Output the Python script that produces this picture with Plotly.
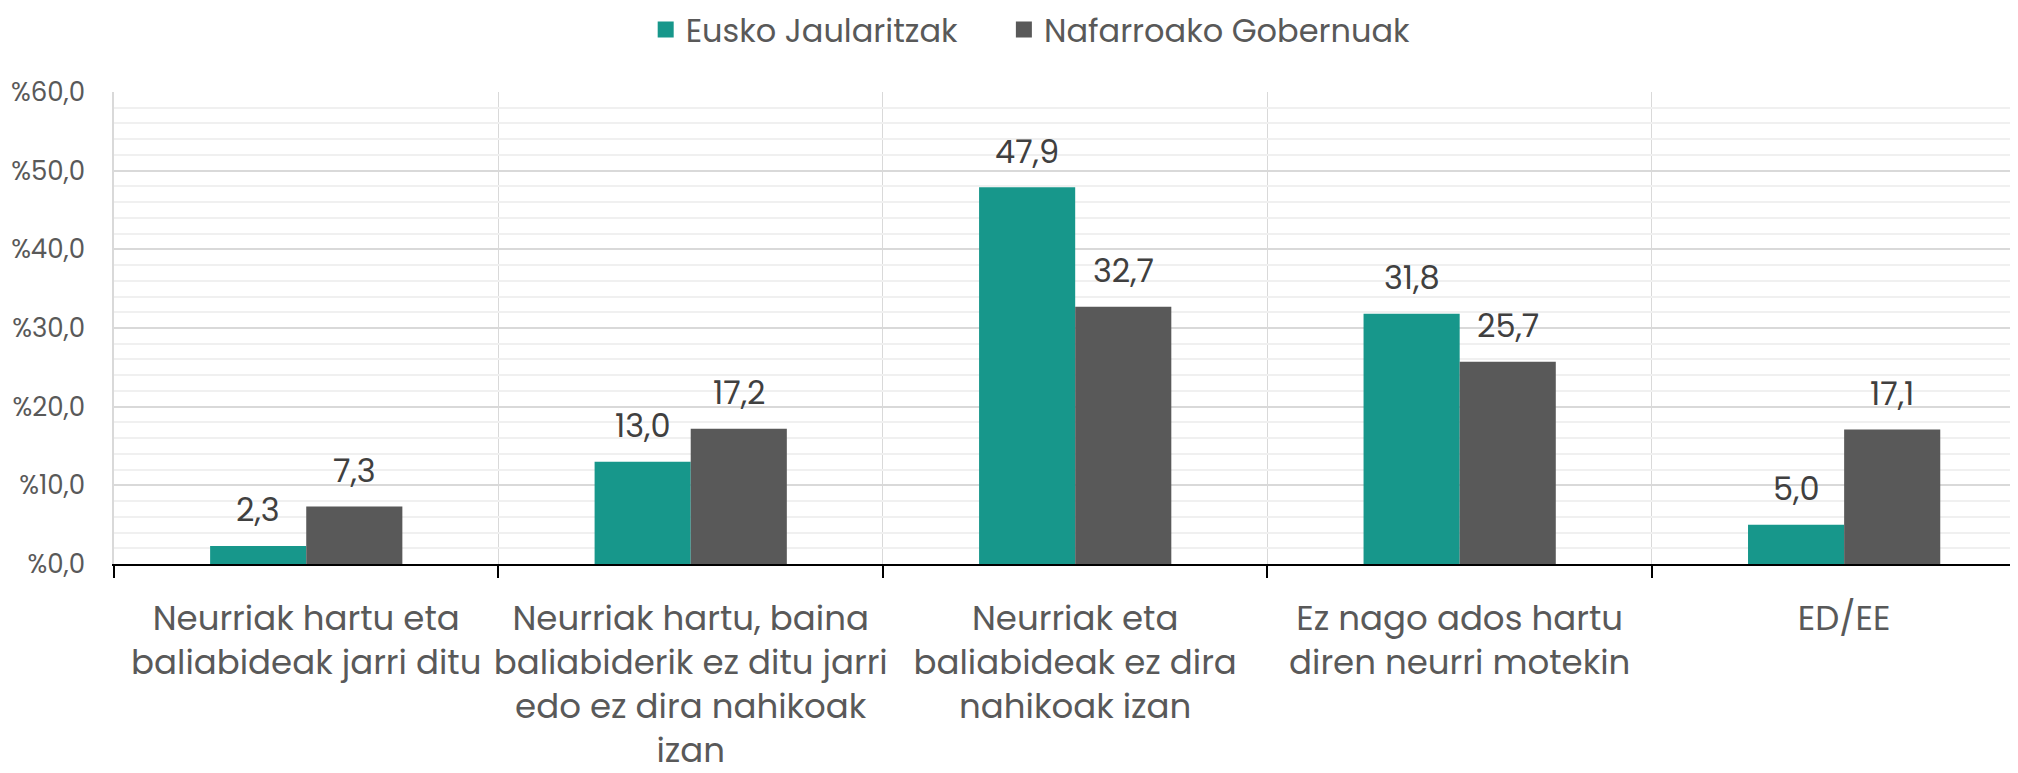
import plotly.graph_objects as go

categories = [
    "Neurriak hartu eta<br>baliabideak jarri ditu",
    "Neurriak hartu, baina<br>baliabiderik ez ditu jarri<br>edo ez dira nahikoak<br>izan",
    "Neurriak eta<br>baliabideak ez dira<br>nahikoak izan",
    "Ez nago ados hartu<br>diren neurri motekin",
    "ED/EE",
]
series_names = ["Eusko Jaularitzak", "Nafarroako Gobernuak"]
eusko = [2.3, 13.0, 47.9, 31.8, 5.0]
nafarroa = [7.3, 17.2, 32.7, 25.7, 17.1]
colors = ["#17978B", "#595959"]

FONT = "Poppins, 'Open Sans', sans-serif"
xpos = list(range(len(categories)))
bargap = 0.5
half = (1 - bargap) / 4  # offset of each bar centre from category centre

fig = go.Figure()
for name, vals, col in zip(series_names, [eusko, nafarroa], colors):
    fig.add_bar(x=xpos, y=vals, name=name, showlegend=False,
                marker=dict(color=col, line=dict(width=0)))
# legend swatches (bigger squares than the default bar swatch), one legend each
for name, col, lg in zip(series_names, colors, ["legend", "legend2"]):
    fig.add_scatter(x=[None], y=[None], mode="markers", name=name, legend=lg,
                    marker=dict(symbol="square", size=16, color=col))

annotations = []
for vals, sign in [(eusko, -1), (nafarroa, 1)]:
    for i, v in enumerate(vals):
        annotations.append(dict(
            x=i + sign * half, y=v, xref="x", yref="y",
            text=f"{v:.1f}".replace(".", ","), showarrow=False,
            yanchor="middle", yshift=36,
            font=dict(family=FONT, size=32, color="#404040"),
        ))

legend_common = dict(orientation="h", yref="container", y=0.972, yanchor="middle",
                     xref="container", xanchor="left",
                     font=dict(size=32, color="#595959"), itemsizing="trace",
                     bgcolor="rgba(0,0,0,0)")

fig.update_layout(
    width=2018, height=773,
    margin=dict(l=106, r=0, t=84, b=217),
    paper_bgcolor="white", plot_bgcolor="white",
    barmode="group", bargap=bargap, bargroupgap=0,
    separators=",.",
    font=dict(family=FONT, color="#595959"),
    annotations=annotations,
    legend=dict(legend_common, x=0.316),
    legend2=dict(legend_common, x=0.4935),
    xaxis=dict(
        range=[-0.5, 4.473], tickmode="array", tickvals=xpos, ticktext=categories,
        showgrid=False, ticks="", zeroline=False,
        showline=True, linecolor="black", linewidth=2,
        tickfont=dict(size=34, color="#595959"), ticklabelstandoff=23,
        minor=dict(tick0=-0.5, dtick=1, showgrid=True, gridcolor="#d9d9d9", gridwidth=1.2,
                   ticks="outside", ticklen=12, tickcolor="black", tickwidth=1.5),
    ),
    yaxis=dict(
        range=[0, 60], dtick=10, tickprefix="%", tickformat=".1f",
        showgrid=True, gridcolor="#d9d9d9", gridwidth=1.5, zeroline=False,
        showline=True, linecolor="#d9d9d9", linewidth=1.5, ticks="",
        tickfont=dict(size=26, color="#595959"), ticklabelstandoff=22,
        minor=dict(dtick=2, showgrid=True, gridcolor="#f0f0f0", gridwidth=1.5),
    ),
)

fig.write_html("out.html")
